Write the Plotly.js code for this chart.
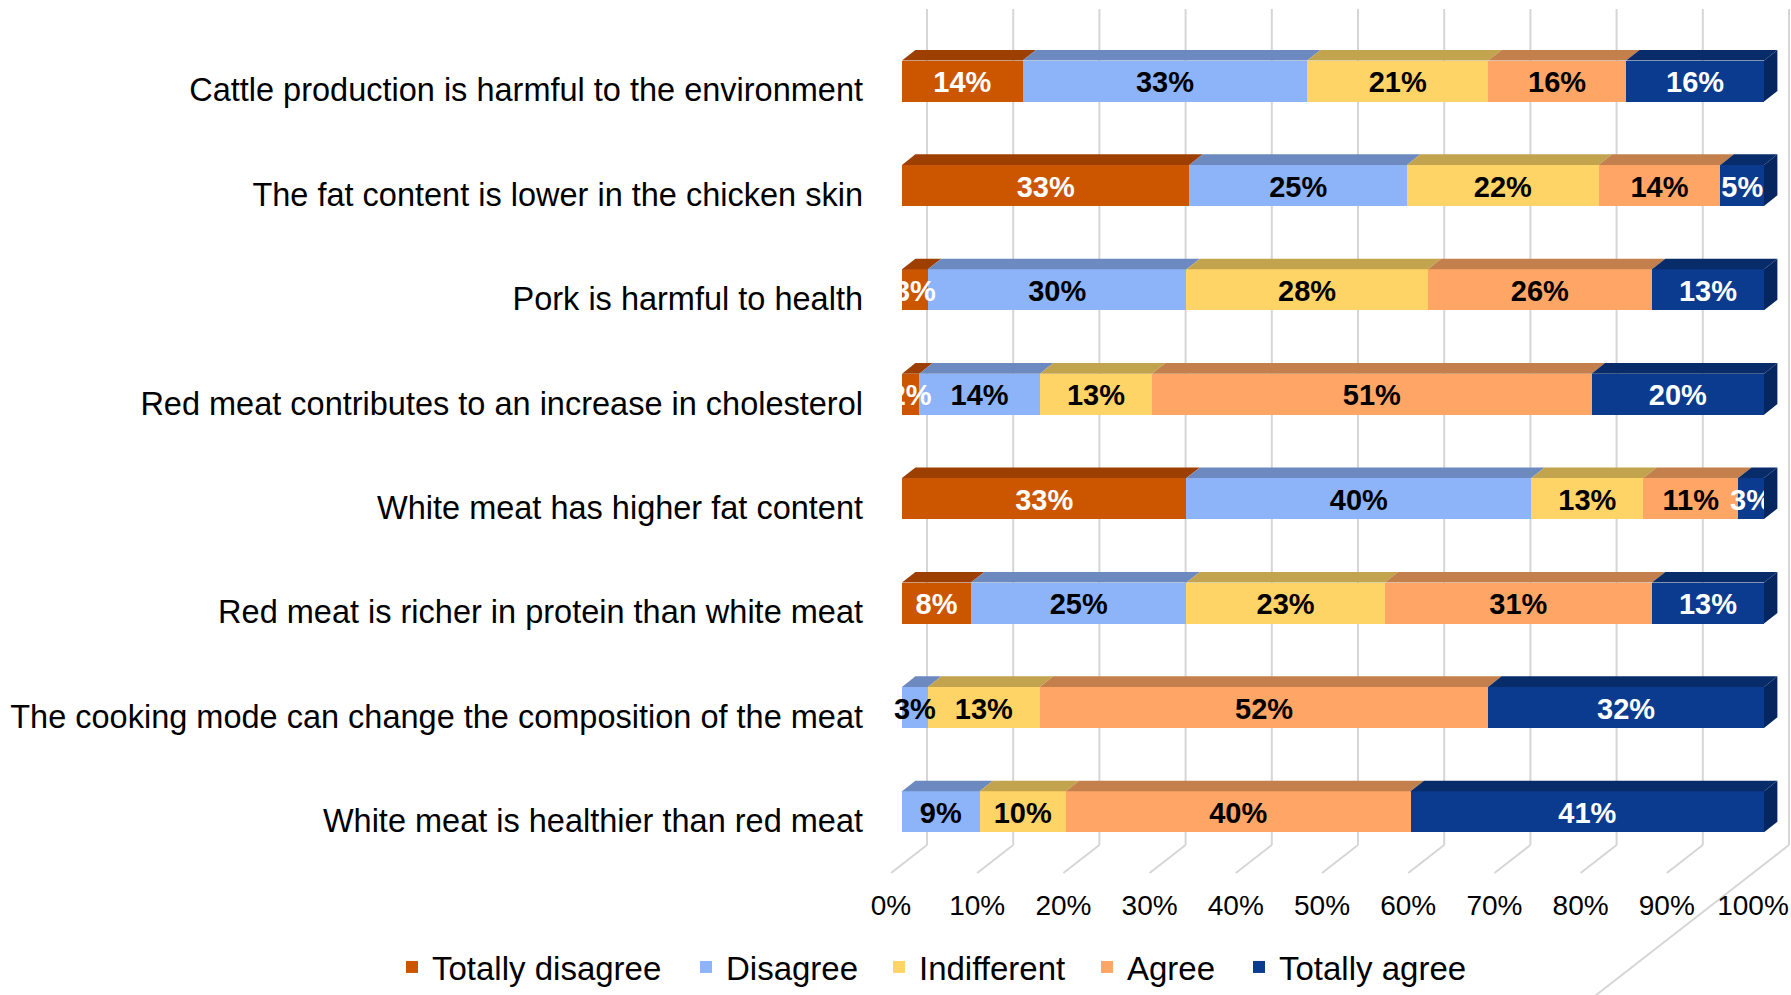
<!DOCTYPE html>
<html>
<head>
<meta charset="utf-8">
<script src="https://cdn.plot.ly/plotly-3.0.1.min.js"></script>
<style>html,body{margin:0;padding:0;background:#fff;}#chart{width:1791px;height:995px;}</style>
</head>
<body>
<div id="chart"></div>
<script>
// ---------------- DATA ----------------
const categories = [
  'Cattle production is harmful to the environment',
  'The fat content is lower in the chicken skin',
  'Pork is harmful to health',
  'Red meat contributes to an increase in cholesterol',
  'White meat has higher fat content',
  'Red meat is richer in protein than white meat',
  'The cooking mode can change the composition of the meat',
  'White meat is healthier than red meat'
];
const seriesNames = ['Totally disagree', 'Disagree', 'Indifferent', 'Agree', 'Totally agree'];
const totallyDisagree = [14, 33, 3, 2, 33, 8, 0, 0];
const disagree        = [33, 25, 30, 14, 40, 25, 3, 9];
const indifferent     = [21, 22, 28, 13, 13, 23, 13, 10];
const agree           = [16, 14, 26, 51, 11, 31, 52, 40];
const totallyAgree    = [16, 5, 13, 20, 3, 13, 32, 41];
const tickValues = [0, 0.1, 0.2, 0.3, 0.4, 0.5, 0.6, 0.7, 0.8, 0.9, 1.0];
const tickLabels = ['0%', '10%', '20%', '30%', '40%', '50%', '60%', '70%', '80%', '90%', '100%'];

// ---------------- STYLE ----------------
const series = [totallyDisagree, disagree, indifferent, agree, totallyAgree];
const frontColors = ['#CC5500', '#8DB4F8', '#FFD466', '#FFA566', '#0A3B8E'];
const topColors   = ['#9C3F00', '#6C8AC0', '#C2A34E', '#C3804D', '#082B6A'];
const sideColor   = '#062660';
const labelColors = ['#FFFFFF', '#000000', '#000000', '#000000', '#FFFFFF'];
const FONT = 'Liberation Sans, Arial, sans-serif';

// geometry helpers (pixel sizes -> axis units)
const W = 1791, H = 995;
const PX_PER_X = 862;     // pixels for 100%
const PX_PER_CAT = 104.4; // pixels between categories
const X0_PX = 902;        // pixel of 0% at front of bars
const CAT0_PX = 81;       // pixel of first category centre
const L_MARGIN = 880;
const ux = p => p / PX_PER_X;
const uy = p => p / PX_PER_CAT;
const yd = p => (p - CAT0_PX) / PX_PER_CAT;

const barHalf = 20.5, depthX = 13.4, depthY = 10.6;
const wallX = 25, floorX = 36, floorY = 28;
const wallTopPx = 9, backFloorPx = 845, frontFloorPx = 873;

const yIdx = categories.map((c, i) => i);
const totals = yIdx.map(i => series.reduce((s, arr) => s + arr[i], 0));

const traces = [];
const legendX = [411, 705, 898, 1106, 1258];
series.forEach((arr, k) => {
  traces.push({
    type: 'bar', orientation: 'h', name: seriesNames[k],
    x: arr, y: yIdx, width: uy(2 * barHalf),
    marker: {color: frontColors[k], line: {width: 0}},
    hoverinfo: 'skip', showlegend: true,
    legend: k === 0 ? 'legend' : 'legend' + (k + 1)
  });
});

// labels (scatter text, computed from cumulative fractions)
const shapes = [];
const cum = yIdx.map(() => 0);
series.forEach((arr, k) => {
  const xs = [], ys = [], tx = [];
  yIdx.forEach(i => {
    const v = arr[i];
    const a = cum[i] / totals[i];
    const b = (cum[i] + v) / totals[i];
    if (v > 0) {
      xs.push((a + b) / 2); ys.push(i + uy(4)); tx.push(v + '%');
      const yTop = i - uy(barHalf);
      const yBack = yTop - uy(depthY);
      const dx = ux(depthX);
      shapes.push({
        type: 'path', xref: 'x', yref: 'y', layer: 'above',
        path: `M${a},${yTop} L${b},${yTop} L${b + dx},${yBack} L${a + dx},${yBack} Z`,
        fillcolor: topColors[k], line: {width: 0}
      });
    }
    cum[i] += v;
  });
  traces.push({
    type: 'scatter', mode: 'text', x: xs, y: ys, text: tx,
    textposition: 'middle center',
    textfont: {family: FONT, size: 29, color: labelColors[k], weight: 'bold'},
    hoverinfo: 'skip', showlegend: false, cliponaxis: false
  });
});

// right side faces of each bar
yIdx.forEach(i => {
  const yTop = i - uy(barHalf), yBot = i + uy(barHalf);
  const dx = ux(depthX), dy = uy(depthY);
  shapes.push({
    type: 'path', xref: 'x', yref: 'y', layer: 'above',
    path: `M1,${yTop} L${1 + dx},${yTop - dy} L${1 + dx},${yBot - dy} L1,${yBot} Z`,
    fillcolor: sideColor, line: {width: 0}
  });
});

// back wall gridlines and floor lines
tickValues.forEach((t, j) => {
  const xb = t + ux(wallX);
  const xf = t + ux(wallX - floorX);
  shapes.push({type: 'line', xref: 'x', yref: 'y', layer: 'below',
    x0: xb, x1: xb, y0: yd(wallTopPx), y1: yd(backFloorPx),
    line: {color: '#D6D6D6', width: 2}});
  if (j === tickValues.length - 1) {
    const dyPx = H - backFloorPx;
    const xe = t + ux(wallX - dyPx * floorX / floorY);
    shapes.push({type: 'line', xref: 'x', yref: 'y', layer: 'below',
      x0: xb, x1: xe, y0: yd(backFloorPx), y1: yd(H),
      line: {color: '#D6D6D6', width: 2}});
  } else {
    shapes.push({type: 'line', xref: 'x', yref: 'y', layer: 'below',
      x0: xb, x1: xf, y0: yd(backFloorPx), y1: yd(frontFloorPx),
      line: {color: '#D6D6D6', width: 2}});
  }
});

const legendBase = {
  orientation: 'h', xref: 'container', yref: 'container',
  yanchor: 'bottom', y: -0.005, xanchor: 'left',
  font: {family: FONT, size: 33, color: '#000'}, bgcolor: 'rgba(0,0,0,0)',
  borderwidth: 0, itemclick: false, itemdoubleclick: false
};
const layout = {
  width: W, height: H,
  margin: {l: L_MARGIN, r: 0, t: 0, b: 0, autoexpand: false},
  paper_bgcolor: '#fff', plot_bgcolor: 'rgba(0,0,0,0)',
  barmode: 'stack', barnorm: 'fraction',
  hovermode: false,
  xaxis: {
    range: [-(X0_PX - L_MARGIN) / PX_PER_X, (W - X0_PX) / PX_PER_X],
    showgrid: false, zeroline: false, showline: false, ticks: '',
    tickvals: tickValues.map(t => t + ux(wallX - floorX)), ticktext: tickLabels,
    tickfont: {family: FONT, size: 28, color: '#000'},
    anchor: 'free', position: (H - 886) / H, side: 'bottom', fixedrange: true,
    automargin: false
  },
  yaxis: {
    range: [yd(H), yd(0)],
    showgrid: false, zeroline: false, showline: false, ticks: '',
    tickvals: yIdx.map(i => i + uy(9)), ticktext: categories,
    tickfont: {family: FONT, size: 32.5, color: '#000'},
    ticklabelstandoff: 16, fixedrange: true, automargin: false
  },
  shapes: shapes,
  showlegend: true
};
seriesNames.forEach((n, k) => {
  const key = k === 0 ? 'legend' : 'legend' + (k + 1);
  layout[key] = Object.assign({}, legendBase, {x: (legendX[k] - 19) / W});
});

Plotly.newPlot('chart', traces, layout, {displayModeBar: false, staticPlot: true});
</script>
</body>
</html>
